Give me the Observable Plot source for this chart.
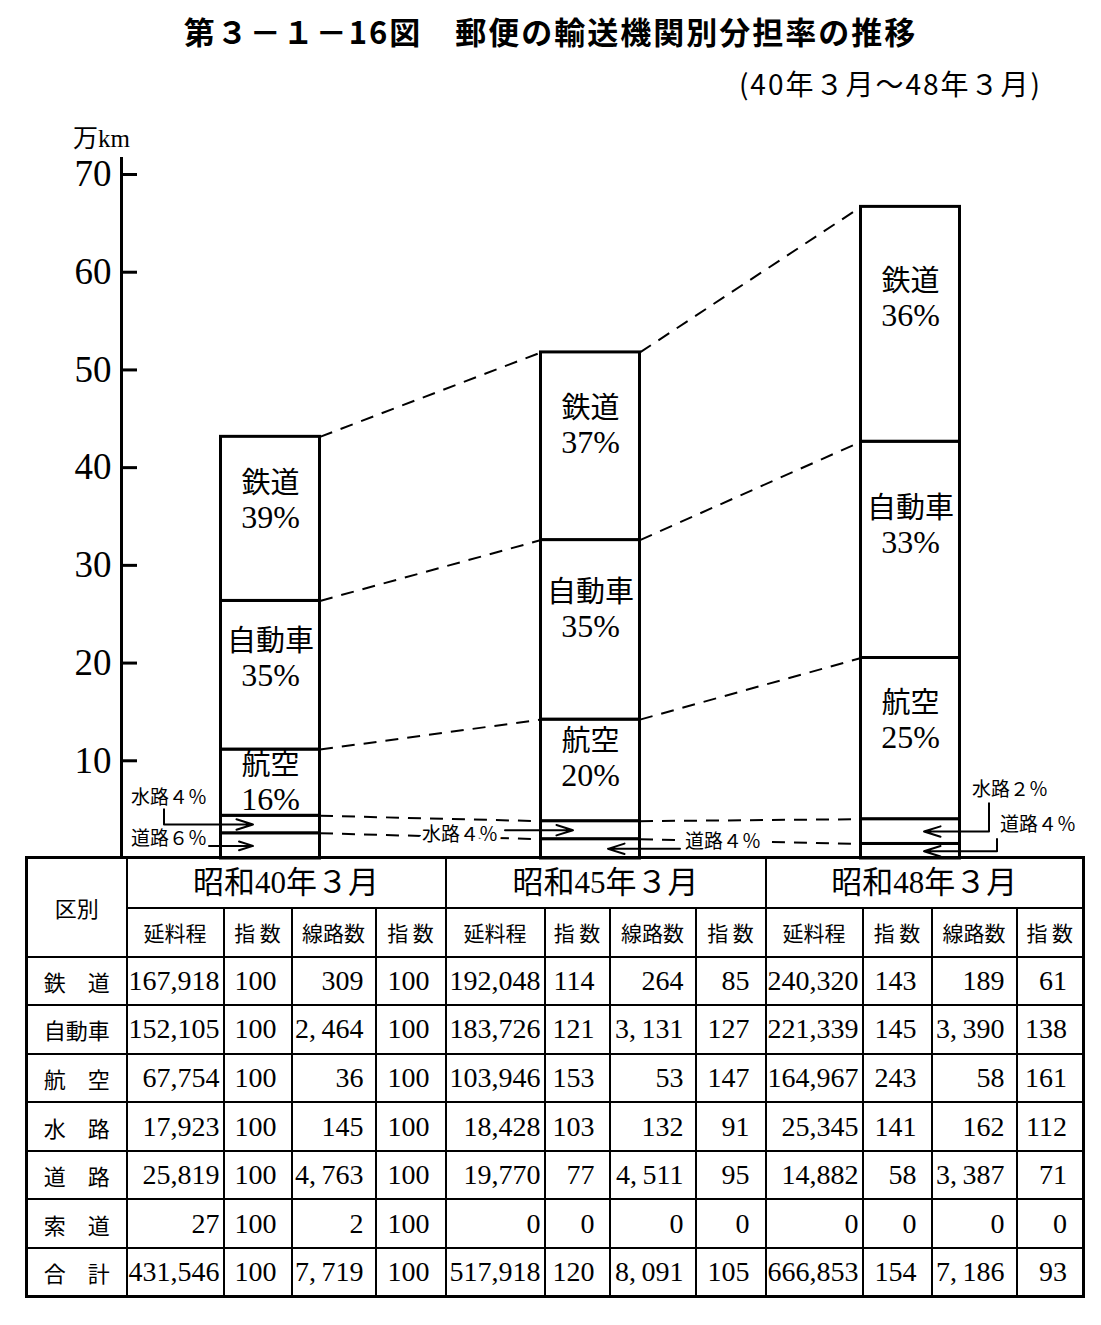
<!DOCTYPE html>
<html><head><meta charset="utf-8">
<script src="https://cdn.jsdelivr.net/npm/d3@7"></script>
<script src="https://cdn.jsdelivr.net/npm/@observablehq/plot@0.6"></script>
<style>
body{margin:0;background:#fff;}
#page{position:relative;width:1101px;height:1325px;background:#fff;color:#000;font-family:"Noto Sans CJK JP",sans-serif;overflow:hidden;}
#title{position:absolute;left:0;top:12px;width:1101px;text-align:center;font-size:31px;font-weight:700;letter-spacing:2px;line-height:38px;}
#subtitle{position:absolute;right:59px;top:65px;font-size:28px;letter-spacing:2px;line-height:36px;font-family:"Noto Sans CJK JP",sans-serif;}
#chart{position:absolute;left:0;top:100px;}
#tbl{position:absolute;left:25px;top:856px;border-collapse:collapse;table-layout:fixed;width:1058px;border:3px solid #000;}
#tbl th,#tbl td{border:2px solid #000;padding:0;line-height:1;overflow:hidden;white-space:nowrap;}
#tbl tr.h1{height:50px;}
#tbl tr.h2{height:49px;}
#tbl tr.d{height:48.6px;}
#tbl th{font-weight:400;font-family:"Liberation Serif","Noto Sans CJK JP",serif;}
#tbl th.kubetsu{font-size:22px;font-family:"Noto Sans CJK JP",sans-serif;}
#tbl th.yr{font-size:31px;}
#tbl th.sub{font-size:21px;font-family:"Noto Sans CJK JP",sans-serif;}
#tbl th.rl{font-size:22px;font-family:"Noto Sans CJK JP",sans-serif;}
#tbl td{font-family:"Liberation Serif",serif;font-size:28px;text-align:right;}
#tbl td.c1{padding-right:3px;}
#tbl td.c2{padding-right:14px;}
#tbl td.c3{padding-right:11px;}
#tbl td.c4{padding-right:15px;}
</style>
</head>
<body>
<div id="page">
  <div id="title">第３－１－16図　郵便の輸送機関別分担率の推移</div>
  <div id="subtitle">(40年３月～48年３月)</div>
  <div id="chart"></div>
  <table id="tbl"></table>
</div>
<script>
// ---------------- data ----------------
const years = ["昭和40年３月", "昭和45年３月", "昭和48年３月"];
const rowLabels = ["鉄　道", "自動車", "航　空", "水　路", "道　路", "索　道", "合　計"];
const modes = ["鉄道", "自動車", "航空", "水路", "道路", "索道"];
const subHeads = ["延料程", "指 数", "線路数", "指 数"];

// 延料程 (km), 指数, 線路数, 指数 — rows: 鉄道, 自動車, 航空, 水路, 道路, 索道, 合計
const km40 = [167918, 152105, 67754, 17923, 25819, 27, 431546];
const idxKm40 = [100, 100, 100, 100, 100, 100, 100];
const lines40 = [309, 2464, 36, 145, 4763, 2, 7719];
const idxLines40 = [100, 100, 100, 100, 100, 100, 100];

const km45 = [192048, 183726, 103946, 18428, 19770, 0, 517918];
const idxKm45 = [114, 121, 153, 103, 77, 0, 120];
const lines45 = [264, 3131, 53, 132, 4511, 0, 8091];
const idxLines45 = [85, 127, 147, 91, 95, 0, 105];

const km48 = [240320, 221339, 164967, 25345, 14882, 0, 666853];
const idxKm48 = [143, 145, 243, 141, 58, 0, 154];
const lines48 = [189, 3390, 58, 162, 3387, 0, 7186];
const idxLines48 = [61, 138, 161, 112, 71, 0, 93];

// share labels printed on the chart (%), order: 鉄道, 自動車, 航空, 水路, 道路
const pct40 = [39, 35, 16, 4, 6];
const pct45 = [37, 35, 20, 4, 4];
const pct48 = [36, 33, 25, 2, 4];

const yTicks = [10, 20, 30, 40, 50, 60, 70];
const yUnit = "万km";

// ---------------- build chart data ----------------
const kmAll = [km40, km45, km48];
const pctAll = [pct40, pct45, pct48];
const stackOrder = [4, 3, 2, 1, 0]; // 道路, 水路, 航空, 自動車, 鉄道 (bottom -> top)

// layout helpers (pixels -> data units)
const PX_X = 320;            // pixels per bar step
const PX_Y = 684 / 70;       // pixels per 万km
const ux = px => px / PX_X;
const uy = px => px / PX_Y;
const barHalf = ux(49.5);
const xMin = -ux(149), xMax = ux(831);
const axisTop = uy(701);

const segs = [];
kmAll.forEach((km, i) => {
  let cum = 0;
  stackOrder.forEach(r => {
    const v = km[r] / 10000;
    segs.push({i, r, mode: modes[r], pct: pctAll[i][r], y1: cum, y2: cum + v, x1: i - barHalf, x2: i + barHalf});
    cum += v;
  });
});
const seg = (i, r) => segs.find(s => s.i === i && s.r === r);

const links = [];
for (let i = 0; i < 2; i++) {
  stackOrder.forEach(r => {
    const a = seg(i, r), b = seg(i + 1, r);
    links.push({x1: a.x2, y1: a.y2, x2: b.x1, y2: b.y2});
  });
}

const inside = segs.filter(s => s.r <= 2).map(s => ({...s, ly: Math.min(s.y1 + 0.61 * (s.y2 - s.y1), s.y2 - uy(33))}));

const fw = n => String(n).replace(/[0-9]/g, c => String.fromCharCode(c.charCodeAt(0) + 0xFEE0));
const mid = s => (s.y1 + s.y2) / 2;
// y in data units offset by a pixel amount (positive = down)
const yOff = (v, px) => v - uy(px);

// outside annotations for 水路 (r=3) and 道路 (r=4)
const texts = [], haloTexts = [], arrows = [], stems = [];
{
  // bar 0
  const L = 0 - barHalf;
  const w = seg(0, 3), d = seg(0, 4);
  texts.push({x: L + ux(-90), y: yOff(mid(w), -27), t: "水路" + fw(w.pct) + "％"});
  stems.push({x1: L + ux(-57), y1: yOff(mid(w), -16), x2: L + ux(-57), y2: mid(w)});
  arrows.push({x1: L + ux(-57), x2: L + ux(32), y: mid(w)});
  texts.push({x: L + ux(-90), y: yOff(mid(d), -7), t: "道路" + fw(d.pct) + "％"});
  arrows.push({x1: L + ux(-12), x2: L + ux(32), y: mid(d)});
}
{
  // bar 1
  const L = 1 - barHalf, R = 1 + barHalf;
  const w = seg(1, 3), d = seg(1, 4);
  haloTexts.push({x: L + ux(-81), y: yOff(mid(w), 5), t: "水路" + fw(w.pct) + "％"});
  arrows.push({x1: L + ux(-36), x2: L + ux(32), y: mid(w)});
  haloTexts.push({x: R + ux(83), y: yOff(mid(d), -7), t: "道路" + fw(d.pct) + "％"});
  arrows.push({x1: R + ux(40), x2: R + ux(-32), y: mid(d)});
}
{
  // bar 2
  const R = 2 + barHalf;
  const w = seg(2, 3), d = seg(2, 4);
  texts.push({x: R + ux(12), y: yOff(mid(w), -42), t: "水路" + fw(w.pct) + "％"});
  stems.push({x1: R + ux(29), y1: yOff(mid(w), -29), x2: R + ux(29), y2: mid(w)});
  arrows.push({x1: R + ux(29), x2: R + ux(-36), y: mid(w)});
  texts.push({x: R + ux(40), y: yOff(mid(d), -26), t: "道路" + fw(d.pct) + "％"});
  stems.push({x1: R + ux(37), y1: yOff(mid(d), -13), x2: R + ux(37), y2: mid(d)});
  arrows.push({x1: R + ux(37), x2: R + ux(-36), y: mid(d)});
}

const sansJP = "Noto Sans CJK JP, sans-serif";
const serif = "Liberation Serif, Noto Sans CJK JP, serif";

const chart = Plot.plot({
  width: 1101,
  height: 759,
  marginLeft: 121,
  marginRight: 0,
  marginTop: 74,
  marginBottom: 1,
  x: {type: "linear", domain: [xMin, xMax], axis: null},
  y: {domain: [0, 70], axis: null},
  style: {background: "transparent", overflow: "visible", color: "black"},
  marks: [
    // axis line and inward ticks
    Plot.ruleX([xMin], {y1: 0, y2: axisTop, stroke: "black", strokeWidth: 3}),
    Plot.ruleY(yTicks, {y: d => d, x1: xMin, x2: xMin + ux(16), stroke: "black", strokeWidth: 3}),
    Plot.axisY({ticks: yTicks, tickSize: 0, tickPadding: 10, fontSize: 37, fontFamily: "Liberation Serif, serif", tickFormat: d => String(d)}),
    Plot.text([yUnit], {x: xMin, y: axisTop, dx: -20, dy: -19, text: d => d, fontSize: 25, fontFamily: serif, textAnchor: "middle"}),
    // dashed connectors
    Plot.link(links, {x1: "x1", y1: "y1", x2: "x2", y2: "y2", stroke: "black", strokeWidth: 2, strokeDasharray: "13,9"}),
    // stacked bars
    Plot.rect(segs, {x1: "x1", x2: "x2", y1: "y1", y2: "y2", fill: "white", stroke: "black", strokeWidth: 3}),
    // inside labels
    Plot.text(inside, {x: "i", y: "ly", text: "mode", dy: -17, fontSize: 29, fontFamily: sansJP, fill: "black"}),
    Plot.text(inside, {x: "i", y: "ly", text: d => d.pct + "%", dy: 17, fontSize: 32, fontFamily: serif, fill: "black"}),
    // outside annotation stems and arrows
    Plot.link(stems, {x1: "x1", y1: "y1", x2: "x2", y2: "y2", stroke: "black", strokeWidth: 2}),
    Plot.arrow(arrows, {x1: "x1", y1: "y", x2: "x2", y2: "y", stroke: "black", strokeWidth: 2, headLength: 13, headAngle: 35}),
    // halo labels on dashed lines
    Plot.text(haloTexts, {x: "x", y: "y", text: "t", textAnchor: "middle", fontSize: 19, fontFamily: sansJP, fill: "white", stroke: "white", strokeWidth: 8}),
    Plot.text(haloTexts, {x: "x", y: "y", text: "t", textAnchor: "middle", fontSize: 19, fontFamily: sansJP, fill: "black"}),
    Plot.text(texts, {x: "x", y: "y", text: "t", textAnchor: "start", fontSize: 19, fontFamily: sansJP, fill: "black"})
  ]
});
document.getElementById("chart").appendChild(chart);

// ---------------- table ----------------
const groups = [
  {km: km40, ik: idxKm40, ln: lines40, il: idxLines40},
  {km: km45, ik: idxKm45, ln: lines45, il: idxLines45},
  {km: km48, ik: idxKm48, ln: lines48, il: idxLines48}
];
const colWidths = [100, 97, 68, 84, 70, 99, 65, 86, 70, 97, 69, 85, 67];
const fmtKm = d3.format(",");
const fmtLn = n => d3.format(",")(n).replace(",", ",\u2009");
let html = "<colgroup>" + colWidths.map(w => `<col style="width:${w}px">`).join("") + "</colgroup>";
html += `<tr class="h1"><th rowspan="2" class="kubetsu">区別</th>` + years.map(y => `<th colspan="4" class="yr">${y}</th>`).join("") + "</tr>";
html += `<tr class="h2">` + years.map(() => subHeads.map(s => `<th class="sub">${s}</th>`).join("")).join("") + "</tr>";
rowLabels.forEach((lab, r) => {
  html += `<tr class="d"><th class="rl">${lab}</th>` + groups.map(g =>
    `<td class="c1">${fmtKm(g.km[r])}</td><td class="c2">${g.ik[r]}</td><td class="c3">${fmtLn(g.ln[r])}</td><td class="c4">${g.il[r]}</td>`
  ).join("") + "</tr>";
});
document.getElementById("tbl").innerHTML = html;
</script>
</body></html>
